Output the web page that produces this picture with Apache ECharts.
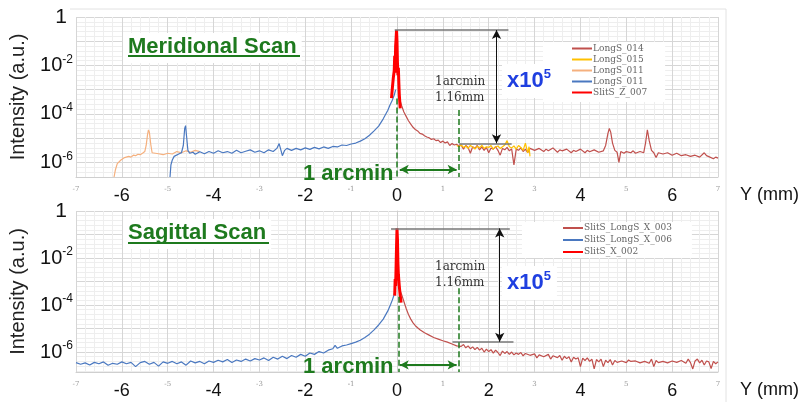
<!DOCTYPE html>
<html>
<head>
<meta charset="utf-8">
<script src="https://cdn.jsdelivr.net/npm/echarts@6.0.0/dist/echarts.min.js"></script>
<style>
  html, body { margin: 0; padding: 0; background: #fff; }
  #chart { width: 804px; height: 402px; }
</style>
</head>
<body>
<div id="chart"></div>
<script>
// values are log10(intensity), x in mm
const merLongS014 = [[0.03,-3.0],[0.06,-3.4],[0.1,-3.65],[0.15,-3.92],[0.2,-4.1],[0.25,-4.28],[0.3,-4.42],[0.35,-4.55],[0.4,-4.64],[0.45,-4.7],[0.5,-4.8],[0.55,-4.83],[0.6,-4.9],[0.65,-4.95],[0.7,-4.98],[0.75,-5.05],[0.8,-5.02],[0.85,-5.1],[0.9,-5.08],[0.95,-5.18],[1.0,-5.12],[1.05,-5.2],[1.1,-5.15],[1.15,-5.3],[1.2,-5.22],[1.25,-5.28],[1.3,-5.25],
  [1.35,-5.32],[1.4,-5.28],[1.45,-5.45],[1.5,-5.3],[1.55,-5.38],[1.6,-5.62],[1.65,-5.35],[1.7,-5.42],[1.75,-5.3],[1.8,-5.48],[1.85,-5.36],[1.9,-5.5],[1.95,-5.38],[2.0,-5.6],[2.05,-5.4],[2.1,-5.45],[2.15,-5.35],[2.2,-5.5],[2.25,-5.7],[2.3,-5.42],[2.35,-5.48],[2.4,-5.38],[2.45,-5.52],[2.5,-5.44],[2.55,-6.1],[2.6,-5.45],[2.65,-5.5],[2.7,-5.4],[2.75,-5.55],[2.8,-5.45],[2.85,-5.6],[2.9,-5.42],
  [3.0,-5.5],[3.1,-5.42],[3.2,-5.55],[3.25,-5.45],[3.3,-5.52],[3.4,-5.4],[3.5,-5.58],[3.55,-5.48],[3.6,-5.52],[3.7,-5.45],[3.8,-5.6],[3.85,-5.5],[3.9,-5.55],[4.0,-5.45],[4.1,-5.6],[4.15,-5.5],[4.2,-5.56],[4.3,-5.48],[4.4,-5.58],[4.5,-5.52],[4.55,-5.3],[4.6,-4.8],[4.63,-4.6],[4.66,-4.75],[4.7,-5.2],[4.75,-5.5],[4.8,-5.58],[4.84,-6.0],[4.88,-5.55],[4.95,-5.62],[5.0,-5.55],[5.1,-5.6],[5.15,-5.52],[5.2,-5.62],[5.3,-5.55],[5.38,-5.6],[5.42,-5.2],[5.46,-4.65],[5.5,-5.1],[5.55,-5.5],[5.6,-5.6],[5.65,-5.8],[5.7,-5.6],[5.8,-5.65],[5.9,-5.6],[6.0,-5.7],[6.1,-5.62],[6.2,-5.72],[6.3,-5.68],[6.4,-5.75],[6.5,-5.7],[6.6,-5.78],[6.7,-5.6],[6.75,-5.72],[6.8,-5.76],[6.9,-5.85],[6.95,-5.78],[7.0,-5.82]];

const merLongS015 = [[1.3,-5.3],[1.35,-5.35],[1.4,-5.28],[1.45,-5.38],[1.5,-5.32],[1.55,-5.42],[1.6,-5.3],[1.65,-5.36],[1.7,-5.45],[1.75,-5.33],[1.8,-5.4],[1.85,-5.3],[1.9,-5.42],[1.95,-5.35],[2.0,-5.38],[2.05,-5.3],[2.1,-5.45],[2.15,-5.36],[2.2,-5.32],[2.25,-5.42],[2.3,-5.35],[2.35,-5.28],[2.4,-5.1],[2.45,-5.35],[2.5,-5.4],[2.55,-5.32],[2.6,-5.45],[2.65,-5.3],[2.7,-5.38],[2.75,-5.5],[2.8,-5.2],[2.85,-5.6],[2.88,-5.35],[2.9,-5.75]];

const merLongS011a = [[-6.17,-6.6],[-6.14,-6.3],[-6.1,-6.05],[-6.06,-5.98],[-6.02,-5.9],[-5.98,-5.88],[-5.94,-5.8],[-5.9,-5.82],[-5.85,-5.75],[-5.8,-5.78],[-5.75,-5.7],[-5.7,-5.72],[-5.65,-5.66],[-5.6,-5.68],[-5.55,-5.62],[-5.5,-5.55],[-5.47,-5.3],[-5.44,-4.85],[-5.42,-4.66],[-5.4,-4.75],[-5.37,-5.25],[-5.34,-5.6],[-5.3,-5.66],[-5.2,-5.64],[-5.1,-5.68],[-5.0,-5.62],[-4.9,-5.65],[-4.8,-5.55],[-4.7,-5.6],[-4.6,-5.52],[-4.5,-5.58],[-4.4,-5.5],[-4.3,-5.55]];

const merLongS011b = [[-4.95,-6.6],[-4.93,-6.1],[-4.9,-5.9],[-4.86,-5.75],[-4.82,-5.68],[-4.76,-5.65],[-4.7,-5.6],[-4.66,-5.3],[-4.63,-4.6],[-4.61,-4.48],[-4.59,-4.9],[-4.56,-5.5],[-4.52,-5.62],[-4.45,-5.58],[-4.4,-5.66],[-4.3,-5.56],[-4.2,-5.64],[-4.1,-5.55],[-4.0,-5.62],[-3.9,-5.52],[-3.8,-5.6],[-3.7,-5.55],[-3.6,-5.62],[-3.5,-5.5],[-3.4,-5.6],[-3.3,-5.54],[-3.2,-5.48],[-3.1,-5.58],[-3.0,-5.52],[-2.9,-5.6],[-2.8,-5.48],[-2.7,-5.55],[-2.62,-5.42],[-2.57,-5.22],[-2.53,-5.5],[-2.5,-5.72],[-2.45,-5.5],[-2.4,-5.42],[-2.3,-5.5],[-2.2,-5.42],[-2.1,-5.48],[-2.0,-5.4],[-1.9,-5.46],[-1.8,-5.38],[-1.7,-5.44],[-1.6,-5.36],[-1.5,-5.42],[-1.4,-5.34],[-1.3,-5.36],[-1.2,-5.28],[-1.1,-5.3],[-1.0,-5.24],[-0.9,-5.2],[-0.8,-5.12],[-0.7,-5.02],[-0.6,-4.88],[-0.5,-4.7],[-0.4,-4.5],[-0.3,-4.2],[-0.2,-3.85],[-0.15,-3.62],[-0.1,-3.42],[-0.06,-3.22],[-0.03,-3.0]];

const merSlitZ007 = [[-0.12,-3.35],[-0.1,-2.9],[-0.08,-2.5],[-0.06,-2.2],[-0.05,-1.6],[-0.04,-2.3],[-0.03,-1.2],[-0.02,-0.9],[-0.01,-0.54],[0.0,-1.0],[0.01,-1.9],[0.02,-2.4],[0.03,-2.1],[0.04,-2.7],[0.05,-3.2],[0.07,-3.77]];

const sagLongSX003 = [[0.03,-3.1],[0.06,-3.35],[0.1,-3.55],[0.15,-3.85],[0.2,-4.15],[0.25,-4.4],[0.3,-4.6],[0.35,-4.76],[0.4,-4.88],[0.45,-4.97],[0.5,-5.05],[0.6,-5.18],[0.7,-5.28],[0.8,-5.38],[0.9,-5.45],[1.0,-5.52],[1.1,-5.58],[1.2,-5.66],[1.3,-5.74],[1.4,-5.76],[1.45,-5.68],[1.5,-5.82],[1.55,-5.74],[1.6,-5.86],[1.65,-5.78],[1.7,-5.9],[1.75,-5.8],[1.8,-5.92],[1.85,-5.84],[1.9,-6.0],[1.95,-5.88],[2.0,-5.98],[2.05,-5.9],[2.1,-6.05],[2.15,-5.92],[2.2,-6.02],[2.25,-6.15],[2.3,-5.96],[2.35,-6.06],[2.4,-5.98],[2.45,-6.1],[2.5,-6.0],[2.55,-6.12],[2.6,-6.04],[2.65,-6.1],[2.7,-6.02],[2.75,-6.16],[2.8,-6.06],[2.9,-6.14],[3.0,-6.08],[3.05,-6.25],[3.1,-6.12],[3.2,-6.2],[3.3,-6.1],[3.35,-6.3],[3.4,-6.16],[3.5,-6.24],[3.55,-6.15],[3.6,-6.35],[3.65,-6.18],[3.7,-6.28],[3.75,-6.2],[3.8,-6.42],[3.85,-6.22],[3.9,-6.3],[3.95,-6.24],[4.0,-6.62],[4.05,-6.26],[4.1,-6.36],[4.15,-6.25],[4.2,-6.4],[4.25,-6.3],[4.3,-6.72],[4.35,-6.32],[4.4,-6.42],[4.45,-6.3],[4.5,-6.62],[4.55,-6.35],[4.6,-6.45],[4.65,-6.32],[4.7,-6.55],[4.75,-6.36],[4.8,-6.44],[4.9,-6.38],[5.0,-6.45],[5.05,-6.34],[5.1,-6.4],[5.2,-6.38],[5.3,-6.46],[5.4,-6.4],[5.5,-6.48],[5.55,-6.3],[5.6,-6.62],[5.65,-6.36],[5.7,-6.45],[5.8,-6.4],[5.9,-6.46],[6.0,-6.38],[6.1,-6.44],[6.2,-6.36],[6.3,-6.48],[6.35,-6.3],[6.4,-6.45],[6.45,-6.72],[6.5,-6.38],[6.55,-6.3],[6.6,-6.46],[6.65,-6.35],[6.7,-6.55],[6.75,-6.38],[6.8,-6.42],[6.85,-6.7],[6.9,-6.4],[6.95,-6.5],[7.0,-6.42]];

const sagLongSX006 = [[-7.0,-6.45],[-6.9,-6.52],[-6.8,-6.46],[-6.7,-6.55],[-6.6,-6.44],[-6.5,-6.5],[-6.4,-6.42],[-6.3,-6.56],[-6.2,-6.48],[-6.1,-6.52],[-6.0,-6.42],[-5.9,-6.5],[-5.8,-6.44],[-5.7,-6.62],[-5.6,-6.45],[-5.5,-6.4],[-5.4,-6.52],[-5.3,-6.44],[-5.2,-6.6],[-5.1,-6.42],[-5.0,-6.48],[-4.9,-6.4],[-4.8,-6.5],[-4.7,-6.42],[-4.6,-6.56],[-4.5,-6.38],[-4.4,-6.46],[-4.3,-6.4],[-4.2,-6.5],[-4.1,-6.38],[-4.0,-6.44],[-3.9,-6.35],[-3.8,-6.42],[-3.7,-6.32],[-3.6,-6.45],[-3.5,-6.34],[-3.4,-6.4],[-3.3,-6.3],[-3.2,-6.38],[-3.1,-6.28],[-3.0,-6.34],[-2.9,-6.25],[-2.8,-6.36],[-2.7,-6.22],[-2.6,-6.3],[-2.5,-6.18],[-2.4,-6.28],[-2.3,-6.15],[-2.2,-6.22],[-2.1,-6.1],[-2.0,-6.18],[-1.9,-6.04],[-1.8,-6.1],[-1.7,-5.98],[-1.6,-6.04],[-1.5,-5.92],[-1.4,-5.86],[-1.35,-5.72],[-1.3,-5.84],[-1.2,-5.74],[-1.1,-5.7],[-1.0,-5.64],[-0.9,-5.58],[-0.8,-5.5],[-0.7,-5.38],[-0.6,-5.24],[-0.5,-5.06],[-0.4,-4.85],[-0.3,-4.6],[-0.2,-4.25],[-0.14,-3.98],[-0.1,-3.78],[-0.06,-3.54],[-0.03,-3.3]];

const sagSlitX002 = [[-0.05,-3.6],[-0.04,-2.9],[-0.03,-3.2],[-0.02,-2.4],[-0.01,-1.5],[0.0,-0.74],[0.01,-1.2],[0.02,-2.2],[0.03,-2.7],[0.05,-3.2],[0.07,-3.6],[0.09,-3.9]];

const legendTop = ['LongS_014', 'LongS_015', 'LongS_011', 'LongS_011#2', 'SlitS_Z_007'];
const legendBottom = ['SlitS_LongS_X_003', 'SlitS_LongS_X_006', 'SlitS_X_002'];

const SANS = 'Liberation Sans, Arial, sans-serif';
const SERIF = 'DejaVu Serif, serif';
const GREEN = '#1e7a1e';

const chart = echarts.init(document.getElementById('chart'));

function mkLine(name, data, color, width, idx, z) {
  return {
    name: name, type: 'line', data: data,
    xAxisIndex: idx, yAxisIndex: idx,
    showSymbol: false, symbol: 'none', z: z,
    lineStyle: { color: color, width: width },
    itemStyle: { color: color }
  };
}

function xAxisFor(idx) {
  return {
    type: 'value', gridIndex: idx, min: -7, max: 7, interval: 1,
    name: 'Y (mm)', nameLocation: 'end', nameGap: 22,
    nameTextStyle: { fontFamily: SANS, fontSize: 18, color: '#111', verticalAlign: 'top', padding: [9, 0, 0, 0] },
    axisLine: { show: true, onZero: false, lineStyle: { color: '#cfcfcf' } },
    axisTick: { show: false },
    minorTick: { show: false, splitNumber: 5 },
    splitLine: { show: true, lineStyle: { color: '#d6d6d6' } },
    minorSplitLine: { show: true, lineStyle: { color: '#eeeeee' } },
    axisLabel: {
      margin: 6,
      formatter: function (v) {
        return Math.abs(v) % 2 === 1 ? '{s|' + v + '}' : '{b|' + v + '}';
      },
      rich: {
        b: { fontFamily: SANS, fontSize: 18, lineHeight: 26, color: '#111' },
        s: { fontFamily: SERIF, fontSize: 7, lineHeight: 12, color: '#999' }
      }
    }
  };
}

// no fixed interval: min/maxInterval keep one decade per tick, counted from whole decades
function yAxisFor(idx, min) {
  return {
    type: 'value', gridIndex: idx, min: min, max: 0, minInterval: 1, maxInterval: 1, splitNumber: 7,
    name: 'Intensity (a.u.)', nameLocation: 'middle', nameGap: 48, nameRotate: 90,
    nameTextStyle: { fontFamily: SANS, fontSize: 20, color: '#222' },
    axisLine: { show: true, lineStyle: { color: '#cfcfcf' } },
    axisTick: { show: false },
    minorTick: { show: false, splitNumber: 5 },
    splitLine: { show: true, lineStyle: { color: '#d6d6d6' } },
    minorSplitLine: { show: true, lineStyle: { color: '#eeeeee' } },
    axisLabel: {
      margin: 3,
      showMinLabel: false,
      formatter: function (v) {
        if (Math.abs(v) < 1e-9) return '{one|1}';
        if (Math.abs(v - Math.round(v)) < 1e-9 && Math.round(v) % 2 === 0) return '{b|10}{s|' + Math.round(v) + '}';
        return '';
      },
      rich: {
        one: { fontFamily: SANS, fontSize: 21, color: '#111', padding: [0, 6, 0, 0] },
        b: { fontFamily: SANS, fontSize: 20, lineHeight: 24, color: '#111' },
        s: { fontFamily: SANS, fontSize: 12, lineHeight: 24, verticalAlign: 'top', color: '#111' }
      }
    }
  };
}

function annot(idx, lines) {
  return {
    name: 'annot' + idx, type: 'line', data: [], xAxisIndex: idx, yAxisIndex: idx, z: 6,
    markLine: {
      silent: true, animation: false, symbol: ['none', 'none'],
      label: { show: false },
      data: lines
    }
  };
}

function seg(x1, y1, x2, y2, color, width, type, arrows) {
  return [
    { coord: [x1, y1], symbol: arrows ? 'arrow' : 'none', symbolSize: arrows ? [7, 9] : 0,
      lineStyle: { color: color, width: width, type: type } },
    { coord: [x2, y2], symbol: arrows ? 'arrow' : 'none', symbolSize: arrows ? [7, 9] : 0 }
  ];
}

const option = {
  animation: false,
  backgroundColor: '#ffffff',
  grid: [
    { left: 70, width: 648, top: 17, height: 160 },
    { left: 70, width: 648, top: 211, height: 161 }
  ],
  xAxis: [xAxisFor(0), xAxisFor(1)],
  yAxis: [yAxisFor(0, -6.6), yAxisFor(1, -6.85)],
  legend: [
    {
      data: legendTop, orient: 'vertical', left: 543, top: 42,
      padding: [1, 18, 4, 29], itemGap: 0, itemWidth: 20, itemHeight: 2, icon: 'rect',
      backgroundColor: '#ffffff',
      formatter: function (n) { return n.split('#')[0]; },
      textStyle: { fontFamily: SERIF, fontSize: 9, lineHeight: 11, color: '#666', padding: [0, 0, 0, -4] }
    },
    {
      data: legendBottom, orient: 'vertical', left: 522, top: 222,
      padding: [0, 20, 0, 41], itemGap: 0, itemWidth: 20, itemHeight: 2, icon: 'rect',
      backgroundColor: '#ffffff',
      textStyle: { fontFamily: SERIF, fontSize: 9, lineHeight: 12, color: '#666', padding: [0, 0, 0, -4] }
    }
  ],
  series: [
    mkLine('LongS_014', merLongS014, '#c0504d', 1.2, 0, 2),
    mkLine('LongS_015', merLongS015, '#ffc000', 1.2, 0, 3),
    mkLine('LongS_011', merLongS011a, '#f5b07e', 1.2, 0, 2),
    mkLine('LongS_011#2', merLongS011b, '#4a78c0', 1.2, 0, 3),
    mkLine('SlitS_Z_007', merSlitZ007, '#ff0000', 3, 0, 4),
    mkLine('SlitS_LongS_X_003', sagLongSX003, '#c0504d', 1.2, 1, 2),
    mkLine('SlitS_LongS_X_006', sagLongSX006, '#4a78c0', 1.2, 1, 3),
    mkLine('SlitS_X_002', sagSlitX002, '#ff0000', 3, 1, 4),
    annot(0, [
      seg(-0.05, -0.54, 2.43, -0.54, '#777', 1.5, 'solid', false),
      seg(1.35, -5.21, 2.5, -5.21, '#777', 1.5, 'solid', false),
      seg(2.17, -0.54, 2.17, -5.21, '#111', 1, 'solid', true),
      seg(-0.01, -3.36, -0.01, -6.6, GREEN, 1.5, 'dashed', false),
      seg(1.35, -3.84, 1.35, -6.6, GREEN, 1.5, 'dashed', false),
      seg(0.06, -6.29, 1.3, -6.29, GREEN, 2, 'solid', true)
    ]),
    annot(1, [
      seg(-0.13, -0.74, 2.46, -0.74, '#777', 1.5, 'solid', false),
      seg(1.21, -5.56, 2.54, -5.56, '#777', 1.5, 'solid', false),
      seg(2.24, -0.74, 2.24, -5.56, '#111', 1, 'solid', true),
      seg(0.04, -3.65, 0.04, -6.85, GREEN, 1.5, 'dashed', false),
      seg(1.35, -3.29, 1.35, -6.85, GREEN, 1.5, 'dashed', false),
      seg(0.06, -6.55, 1.3, -6.55, GREEN, 2, 'solid', true)
    ])
  ],
  graphic: [
    { type: 'line', shape: { x1: 70, y1: 9, x2: 726, y2: 9 }, style: { stroke: '#e2e2e2', lineWidth: 1 }, z: 1 },
    { type: 'line', shape: { x1: 726, y1: 9, x2: 726, y2: 402 }, style: { stroke: '#e2e2e2', lineWidth: 1 }, z: 1 },
    { type: 'text', left: 123, top: 33, z: 10,
      style: { text: 'Meridional Scan', font: 'bold 22px ' + SANS, fill: GREEN, backgroundColor: '#fff', padding: [3, 5, 5, 5] } },
    { type: 'line', shape: { x1: 128, y1: 56, x2: 300, y2: 56 }, style: { stroke: GREEN, lineWidth: 2 }, z: 11 },
    { type: 'text', left: 123, top: 219, z: 10,
      style: { text: 'Sagittal Scan', font: 'bold 22px ' + SANS, fill: GREEN, backgroundColor: '#fff', padding: [3, 5, 5, 5] } },
    { type: 'line', shape: { x1: 128, y1: 243, x2: 269, y2: 243 }, style: { stroke: GREEN, lineWidth: 2 }, z: 11 },
    { type: 'text', left: 303, top: 163, z: 5,
      style: { text: '1 arcmin', font: 'bold 22px ' + SANS, fill: GREEN } },
    { type: 'text', left: 303, top: 356, z: 5,
      style: { text: '1 arcmin', font: 'bold 22px ' + SANS, fill: GREEN } },
    { type: 'text', left: 435, top: 74, z: 10,
      style: { text: '1arcmin\n1.16mm', font: '12px ' + SERIF, lineHeight: 16, fill: '#333' } },
    { type: 'text', left: 435, top: 259, z: 10,
      style: { text: '1arcmin\n1.16mm', font: '12px ' + SERIF, lineHeight: 16, fill: '#333' } },
    { type: 'text', left: 502, top: 64, z: 10,
      style: { text: '{a|x10}{s|5}', backgroundColor: '#fff', padding: [4, 6, 4, 5],
        rich: { a: { font: 'bold 22px ' + SANS, fill: '#1f3fe0', lineHeight: 26 },
                s: { font: 'bold 13px ' + SANS, fill: '#1f3fe0', lineHeight: 26, verticalAlign: 'top' } } } },
    { type: 'text', left: 502, top: 266, z: 10,
      style: { text: '{a|x10}{s|5}', backgroundColor: '#fff', padding: [4, 6, 4, 5],
        rich: { a: { font: 'bold 22px ' + SANS, fill: '#1f3fe0', lineHeight: 26 },
                s: { font: 'bold 13px ' + SANS, fill: '#1f3fe0', lineHeight: 26, verticalAlign: 'top' } } } }
  ]
};

chart.setOption(option);
</script>
</body>
</html>
